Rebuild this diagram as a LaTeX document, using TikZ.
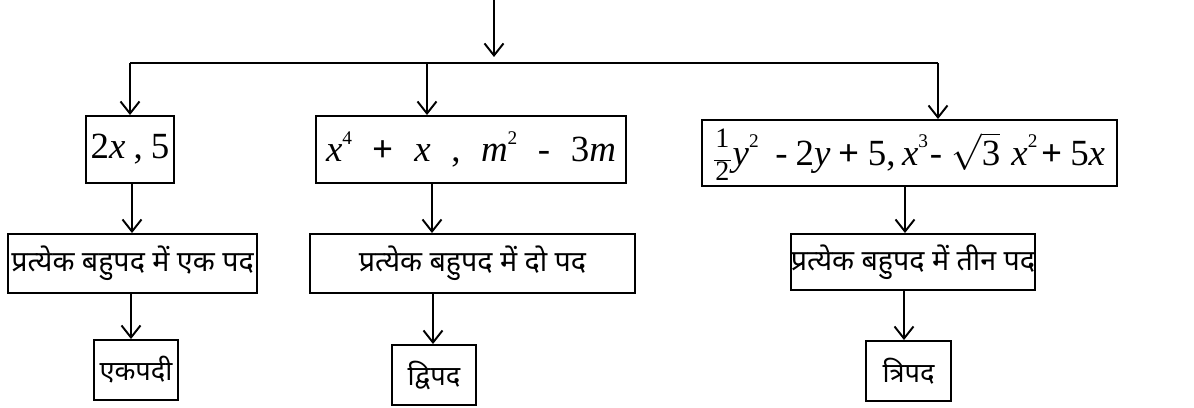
\documentclass[tikz,border=0pt]{standalone}
\usepackage{amsmath}
\usepackage{fontspec}
\setmainfont{Liberation Serif}
\newfontfamily\dev[Script=Devanagari]{Noto Sans}
\usetikzlibrary{arrows.meta}
\tikzset{
  bx/.style={draw, line width=1.1pt, inner sep=0pt, font=\fontsize{21}{24}\selectfont},
  dv/.style={bx, font=\dev\fontsize{16.3}{19}\selectfont},
  dvs/.style={bx, font=\dev\fontsize{15.5}{19}\selectfont},
  arr/.style={line width=1.1pt, -{Straight Barb[length=2.4mm,width=3.8mm,line width=1.1pt]}},
  ln/.style={line width=1.1pt}
}
\newcommand{\vx}[1]{\textit{#1}}
\newcommand{\pl}{\textbf{+}}
\newcommand{\sq}[1]{\raisebox{1.05ex}{\fontsize{11}{11}\selectfont #1}}
\newcommand{\half}{\smash{\fontsize{16}{16}\selectfont\renewcommand{\arraystretch}{0.8}\begin{tabular}{@{}c@{}}1\\[-5pt]\rule{0.6em}{0.6pt}\\[-3pt]2\end{tabular}}}
\begin{document}
\begin{tikzpicture}[x=0.02cm,y=-0.02cm]
\useasboundingbox (0,0) rectangle (1194,408);
% row 1
\node[bx, minimum width=88*0.02cm, minimum height=67*0.02cm] (a1) at (130,149.5) {2\vx{x}\hspace{0.22em},\hspace{0.22em}5};
\node[bx, minimum width=310*0.02cm, minimum height=67*0.02cm] (b1) at (471,149.5) {\makebox[5.8cm][s]{\vx{x}\sq{4}\hfill\pl\hfill\vx{x}\hfill,\hfill\vx{m}\sq{2}\hfill-\hfill3\vx{m}}};
\node[bx, minimum width=415*0.02cm, minimum height=66*0.02cm] (c1) at (909.5,153) {\half\hspace{0.05em}\vx{y}\sq{2}\hspace{0.45em}-\hspace{0.22em}2\vx{y}\hspace{0.22em}\pl\hspace{0.22em}5,\hspace{0.18em}\vx{x}\sq{3}\hspace{0.05em}-\hspace{0.25em}$\sqrt{\textup{3}}$\hspace{0.3em}\vx{x}\sq{2}\hspace{0.1em}\pl\hspace{0.22em}5\vx{x}};
% row 2
\node[dv, minimum width=249*0.02cm, minimum height=59*0.02cm] (a2) at (132.5,263.5) {प्रत्येक बहुपद में एक पद};
\node[dv, minimum width=325*0.02cm, minimum height=59*0.02cm] (b2) at (472.5,263.5) {प्रत्येक बहुपद में दो पद};
\node[dv, minimum width=238*0.02cm, minimum height=56*0.02cm] (c2) at (913,262) {प्रत्येक बहुपद में तीन पद};
% row 3
\node[dvs, minimum width=84*0.02cm, minimum height=60*0.02cm] (a3) at (136,370) {एकपदी};
\node[dvs, minimum width=84*0.02cm, minimum height=60*0.02cm] (b3) at (434,375) {द्विपद};
\node[dvs, minimum width=85*0.02cm, minimum height=60*0.02cm] (c3) at (908.5,371) {त्रिपद};
% top connector
\coordinate (top) at (494,0);
\coordinate (hl) at (130,63);
\coordinate (hm) at (427,63);
\coordinate (hr) at (938,63);
\draw[arr] (top) -- (494,57);
\draw[ln] (hl) -- (hr);
\draw[arr] (hl) -- (hl |- a1.north);
\draw[arr] (hm) -- (hm |- b1.north);
\draw[arr] (hr) -- (hr |- c1.north);
% row1 -> row2
\coordinate (p1) at (132,0);
\coordinate (p2) at (432,0);
\coordinate (p3) at (905,0);
\draw[arr] (p1 |- a1.south) -- (p1 |- a2.north);
\draw[arr] (p2 |- b1.south) -- (p2 |- b2.north);
\draw[arr] (p3 |- c1.south) -- (p3 |- c2.north);
% row2 -> row3
\coordinate (q1) at (131,0);
\coordinate (q2) at (433,0);
\coordinate (q3) at (904,0);
\draw[arr] (q1 |- a2.south) -- (q1 |- a3.north);
\draw[arr] (q2 |- b2.south) -- (q2 |- b3.north);
\draw[arr] (q3 |- c2.south) -- (q3 |- c3.north);
\end{tikzpicture}
\end{document}
